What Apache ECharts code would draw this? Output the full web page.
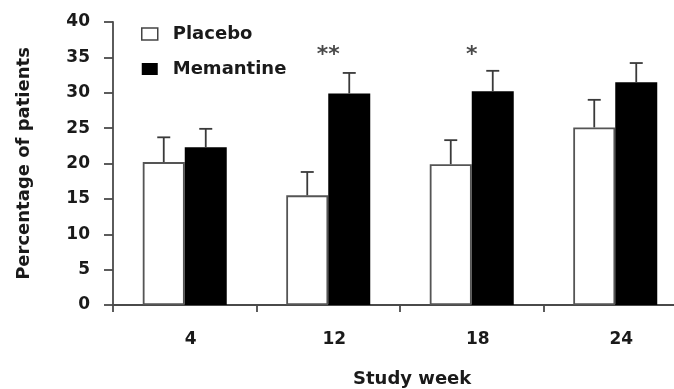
<!DOCTYPE html>
<html>
<head>
<meta charset="utf-8">
<script src="https://cdn.jsdelivr.net/npm/echarts@6/dist/echarts.min.js"></script>
<style>html,body{margin:0;padding:0;background:#fff;overflow:hidden}#c{width:687px;height:389px}</style>
</head>
<body>
<div id="c"></div>
<script>
const categories = ['4', '12', '18', '24'];
const placebo = [20.2, 15.5, 19.9, 25.1];
const placeboErrTop = [23.7, 18.8, 23.3, 29.0];
const memantine = [22.3, 29.9, 30.2, 31.5];
const memantineErrTop = [24.9, 32.8, 33.1, 34.2];
const sigLabels = ['', '**', '*', ''];
const sigY = 35.3;
const yTicks = [0, 5, 10, 15, 20, 25, 30, 35, 40];

const FONT = 'DejaVu Sans';
const BAR_W = 42;
const chart = echarts.init(document.getElementById('c'));

function errSeries(name, vals, tops, offset) {
  return {
    type: 'custom',
    name: name + ' err',
    silent: true,
    z: 5,
    data: vals.map((v, i) => [i, v, tops[i]]),
    renderItem(params, api) {
      const base = api.coord([api.value(0), api.value(1)]);
      const top = api.coord([api.value(0), api.value(2)]);
      const cx = base[0] + offset;
      const st = { stroke: '#3a3a3a', lineWidth: 1.8 };
      return {
        type: 'group',
        children: [
          { type: 'line', shape: { x1: cx, y1: base[1], x2: cx, y2: top[1] }, style: st },
          { type: 'line', shape: { x1: cx - 6.5, y1: top[1], x2: cx + 6.5, y2: top[1] }, style: st }
        ]
      };
    }
  };
}

chart.setOption({
  animation: false,
  backgroundColor: '#fff',
  grid: { left: 113, top: 22, bottom: 84, right: 0 },
  legend: {
    orient: 'vertical',
    left: 136,
    top: 20,
    itemWidth: 16,
    itemHeight: 12,
    itemGap: 17,
    icon: 'rect',
    data: [
      { name: 'Placebo', itemStyle: { color: '#fff', borderColor: '#444', borderWidth: 1.5 } },
      { name: 'Memantine', itemStyle: { color: '#000', borderColor: '#000', borderWidth: 0 } }
    ],
    textStyle: { fontFamily: FONT, fontWeight: 'bold', fontSize: 18, color: '#1a1a1a', padding: [0, 0, 0, 10] }
  },
  title: {
    text: 'Study week',
    left: 353,
    top: 370,
    textStyle: { fontFamily: FONT, fontWeight: 'bold', fontSize: 18, color: '#1a1a1a' },
    padding: 0
  },
  xAxis: {
    type: 'category',
    data: categories,
    axisLine: { lineStyle: { color: '#4a4a4a', width: 1.8 } },
    axisTick: { show: true, length: 7, lineStyle: { color: '#4a4a4a', width: 1.8 } },
    axisLabel: { margin: 26, fontFamily: FONT, fontWeight: 'bold', fontSize: 17, color: '#1a1a1a', padding: [0, 0, 0, 12] },
    splitLine: { show: false }
  },
  yAxis: {
    type: 'value',
    min: yTicks[0],
    max: yTicks[yTicks.length - 1],
    interval: 5,
    name: 'Percentage of patients',
    nameLocation: 'middle',
    nameGap: 80,
    nameTextStyle: { fontFamily: FONT, fontWeight: 'bold', fontSize: 18, color: '#1a1a1a' },
    axisLine: { show: true, lineStyle: { color: '#4a4a4a', width: 1.8 } },
    axisTick: { show: true, length: 9, lineStyle: { color: '#4a4a4a', width: 1.8 } },
    axisLabel: { margin: 23, fontFamily: FONT, fontWeight: 'bold', fontSize: 17, color: '#1a1a1a' },
    splitLine: { show: false }
  },
  series: [
    {
      name: 'Placebo', type: 'bar', data: placebo, barWidth: BAR_W, barGap: '0%',
      itemStyle: { color: '#fff', borderColor: '#555', borderWidth: 1.8 }
    },
    {
      name: 'Memantine', type: 'bar', data: memantine, barWidth: BAR_W, barGap: '0%',
      itemStyle: { color: '#000', borderColor: '#000', borderWidth: 0 }
    },
    errSeries('Placebo', placebo, placeboErrTop, -BAR_W / 2),
    errSeries('Memantine', memantine, memantineErrTop, BAR_W / 2),
    {
      type: 'scatter',
      silent: true,
      symbolSize: 0,
      data: sigLabels.map((s, i) => ({ value: [i, sigY], label: { show: s !== '', formatter: s } })),
      label: { position: 'inside', fontFamily: FONT, fontWeight: 'bold', fontSize: 22, color: '#1a1a1a' }
    }
  ]
});
</script>
</body>
</html>
